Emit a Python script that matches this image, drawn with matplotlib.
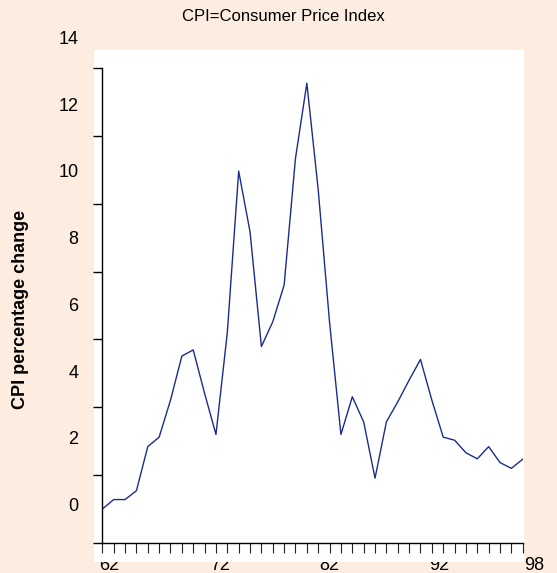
import matplotlib
matplotlib.use('Agg')
import matplotlib.pyplot as plt
from matplotlib.patches import Rectangle

plt.rcParams['font.family'] = ['Liberation Sans', 'DejaVu Sans']

# CPI percentage change, one value per year tick
years = list(range(1962, 2000))
cpi = [1.00, 1.28, 1.28, 1.54, 2.84, 3.12, 4.21, 5.51, 5.69, 4.41,
       3.20, 6.20, 10.96, 9.17, 5.79, 6.52, 7.60, 11.34, 13.55, 10.41,
       6.50, 3.20, 4.31, 3.57, 1.91, 3.57, 4.16, 4.80, 5.41, 4.21,
       3.12, 3.03, 2.66, 2.48, 2.84, 2.37, 2.20, 2.47]

# tick labels (drawn a little off their tick marks, like the original)
ytick_vals = [0, 2, 4, 6, 8, 10, 12, 14]
ytick_text = ['0', '2', '4', '6', '8', '10', '12', '14']
ytick_text_pos = [1.09, 3.04, 5.01, 6.97, 8.94, 10.91, 12.87, 14.83]
xtick_text = ['62', '72', '82', '92', '98']
xtick_text_pos = [1962.63, 1972.36, 1981.96, 1991.64, 2000.05]

bg = '#fcede0'
line_color = '#1c2c8c'

fig = plt.figure(figsize=(5.57, 5.73), dpi=100, facecolor=bg)

# white plotting panel behind the axes
fig.add_artist(Rectangle((0.1688, 1 - 562 / 573), 0.772, 512 / 573, transform=fig.transFigure,
                         facecolor='white', edgecolor='none', zorder=-1))

ax = fig.add_axes([0.1837, 0.05236, 0.7548, 0.829])
ax.set_facecolor('none')
ax.plot(years, cpi, color=line_color, linewidth=1.0)

ax.set_xlim(1962, 1999)
ax.set_ylim(0, 14)
for s in ['top', 'right']:
    ax.spines[s].set_visible(False)
for s in ['left', 'bottom']:
    ax.spines[s].set_linewidth(1.0)

ax.set_xticks(years)
ax.set_xticklabels([])
ax.tick_params(axis='x', length=7, width=0.8, direction='out', color='#222222')
ax.set_yticks(ytick_vals)
ax.set_yticklabels([])
ax.tick_params(axis='y', length=6.5, width=1.0, direction='out')

# y tick labels, right aligned left of the axis
for pos, txt in zip(ytick_text_pos, ytick_text):
    ax.text(-0.057, pos, txt, transform=ax.get_yaxis_transform(), ha='right',
            va='center', fontsize=13, clip_on=False)

# x tick labels sit under the white panel (only the bottom shows)
for pos, txt in zip(xtick_text_pos, xtick_text):
    xf = ax.transData.transform((pos, 0))
    xf = fig.transFigure.inverted().transform(xf)[0]
    fig.text(xf, 1 - 569.5 / 573, txt, ha='center', va='baseline', fontsize=13, zorder=-2)

fig.text(0.508, 0.972, 'CPI=Consumer Price Index', ha='center', va='center', fontsize=12)
fig.text(0.0377, 0.4607, 'CPI percentage change', ha='center', va='center',
         rotation=90, fontsize=13, fontweight='bold')

fig.savefig('out.png', dpi=100, facecolor=bg)
